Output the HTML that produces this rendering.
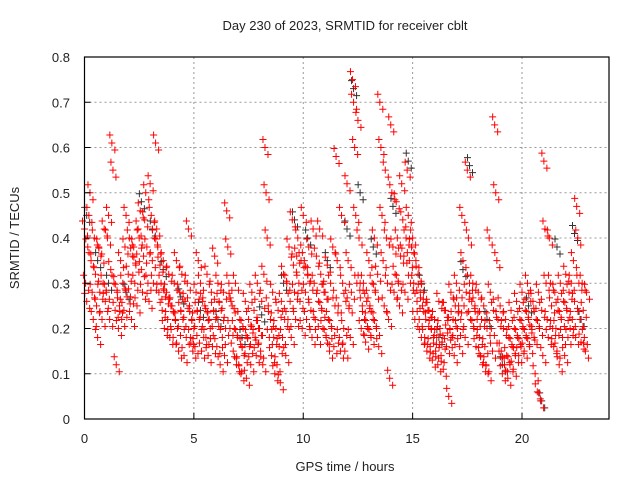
<!DOCTYPE html>
<html><head><meta charset="utf-8"><style>
body{margin:0;background:#fff}
svg{display:block;font-family:"Liberation Sans",sans-serif}
</style></head><body>
<svg id="chart" width="640" height="480" viewBox="0 0 640 480" xmlns="http://www.w3.org/2000/svg">
<rect width="640" height="480" fill="#fff"/>
<text x="345" y="30" font-size="13" text-anchor="middle" fill="#222">Day 230 of 2023, SRMTID for receiver cblt</text>
<text x="345" y="471" font-size="13" text-anchor="middle" fill="#222">GPS time / hours</text>
<text transform="translate(19,238) rotate(-90)" font-size="13" text-anchor="middle" fill="#222">SRMTID / TECUs</text>
<g id="grid"></g>
<g id="black"></g>
<g id="red"></g>
<g id="axes"></g>
</svg>
<script>
const xTicks=[0,5,10,15,20];
const yTicks=[0,0.1,0.2,0.3,0.4,0.5,0.6,0.7,0.8];
const yTickLabels=["0","0.1","0.2","0.3","0.4","0.5","0.6","0.7","0.8"];
const stepHours=0.25;
const redValues=[
[.42,.30,.26,.38,.45],[.50,.35,.28,.22,.40],[.32,.25,.18,.38,.28],[.36,.22,.30,.42,.26],
[.28,.40,.45,.22,.33],[.61,.55,.30,.24,.12],[.28,.20,.25,.35,.22],[.30,.24,.38,.45,.27],
[.32,.40,.27,.22,.36],[.38,.30,.34,.25,.42],[.40,.46,.33,.28,.36],[.44,.50,.38,.30,.26],
[.52,.45,.35,.30,.40],[.61,.42,.38,.28,.34],[.30,.24,.35,.20,.27],[.28,.22,.32,.18,.25],
[.25,.18,.30,.22,.35],[.20,.15,.28,.24,.32],[.22,.14,.26,.18,.30],[.42,.25,.18,.22,.15],
[.20,.16,.28,.24,.35],[.22,.30,.15,.26,.18],[.25,.18,.32,.14,.22],[.20,.28,.16,.24,.36],
[.22,.16,.30,.26,.12],[.24,.18,.28,.14,.20],[.46,.38,.30,.20,.26],[.25,.15,.20,.30,.12],
[.18,.12,.22,.10,.16],[.20,.14,.26,.09,.18],[.22,.16,.12,.28,.19],[.24,.18,.14,.30,.20],
[.20,.15,.26,.12,.32],[.60,.50,.40,.25,.18],[.22,.14,.28,.18,.10],[.20,.12,.24,.16,.08],
[.26,.18,.32,.22,.14],[.30,.22,.38,.26,.18],[.44,.34,.28,.22,.36],[.40,.30,.26,.35,.20],
[.45,.35,.28,.22,.32],[.38,.30,.24,.18,.42],[.30,.22,.36,.18,.26],[.42,.32,.24,.20,.28],
[.28,.18,.34,.22,.15],[.30,.20,.38,.16,.25],[.58,.35,.25,.18,.15],[.45,.30,.20,.15,.26],
[.52,.35,.25,.18,.28],[.75,.70,.60,.45,.30],[.66,.40,.30,.20,.25],[.30,.22,.17,.26,.20],
[.35,.25,.18,.30,.22],[.40,.28,.20,.32,.16],[.70,.60,.45,.35,.25],[.55,.40,.30,.22,.09],
[.65,.50,.38,.28,.32],[.48,.40,.30,.25,.36],[.52,.44,.36,.28,.40],[.55,.45,.35,.30,.38],
[.40,.30,.22,.35,.26],[.32,.22,.28,.18,.25],[.28,.18,.22,.15,.24],[.24,.16,.20,.13,.18],
[.22,.15,.18,.12,.26],[.20,.14,.17,.11,.24],[.24,.16,.19,.05,.20],[.28,.18,.22,.14,.25],
[.30,.20,.25,.16,.22],[.45,.35,.25,.18,.28],[.55,.40,.30,.22,.26],[.30,.20,.25,.16,.22],
[.28,.18,.14,.22,.12],[.25,.16,.12,.20,.10],[.40,.28,.20,.15,.24],[.65,.50,.35,.22,.15],
[.25,.15,.10,.20,.12],[.22,.14,.09,.18,.12],[.24,.16,.11,.20,.14],[.26,.18,.14,.22,.16],
[.28,.20,.15,.24,.18],[.30,.22,.16,.26,.19],[.26,.18,.10,.22,.06],[.28,.20,.04,.24,.14],
[.57,.42,.30,.22,.18],[.40,.30,.25,.20,.16],[.28,.20,.15,.24,.12],[.30,.22,.18,.26,.14],
[.32,.24,.18,.28,.20],[.30,.22,.35,.26,.18],[.47,.40,.30,.22,.17],[.30,.24,.18,.15,.28]
];
const blackTimes=[0.1,0.6,1.1,1.9,2.6,3.1,3.6,4.4,5.3,6.1,7.2,8.1,9.1,9.6,10.2,11.1,12.0,12.3,12.6,13.2,14.1,14.8,15.4,16.2,17.3,17.6,18.4,19.1,20.3,20.9,21.6,22.4,22.7];
const blackValues=[0.45,0.35,0.30,0.28,0.48,0.42,0.33,0.27,0.24,0.22,0.18,0.23,0.30,0.44,0.40,0.35,0.42,0.73,0.50,0.38,0.47,0.57,0.30,0.18,0.33,0.56,0.22,0.12,0.25,0.04,0.38,0.41,0.22];
const X0=84.5,XS=21.875,Y0=419,YS=452.5;
const sx=h=>X0+h*XS, sy=v=>Y0-v*YS;
const NS="http://www.w3.org/2000/svg";
function mk(tag,attrs,parent){const e=document.createElementNS(NS,tag);for(const k in attrs)e.setAttribute(k,attrs[k]);parent.appendChild(e);return e;}
const grid=document.getElementById('grid'),axes=document.getElementById('axes');
xTicks.forEach(t=>{
  const x=sx(t);
  if(t>0){const g=mk('line',{x1:x,x2:x,y1:57,y2:419,stroke:'#999','stroke-dasharray':'2,3'},grid);
  
  }
  const tk=mk('line',{x1:x,x2:x,y1:419,y2:413,stroke:'#000'},axes);
  
  
  const lb=mk('text',{x:x,y:443,'font-size':13,'text-anchor':'middle',fill:'#222'},axes);
  lb.textContent=String(t);
  
  
});
yTicks.forEach((v,i)=>{
  const y=sy(v);
  if(v>0&&v<0.8){const g=mk('line',{x1:84.5,x2:609,y1:y,y2:y,stroke:'#999','stroke-dasharray':'2,3'},grid);
  
  }
  const tk=mk('line',{x1:84.5,x2:90.5,y1:y,y2:y,stroke:'#000'},axes);
  
  
  const lb=mk('text',{x:70,y:y+5,'font-size':13,'text-anchor':'end',fill:'#222'},axes);
  lb.textContent=yTickLabels[i];
  
  
});
const box=mk('rect',{x:84.5,y:57,width:524.5,height:362,fill:'none',stroke:'#000','stroke-width':1.2},axes);


// each sample drawn as a small cluster of "+" markers (dense gnuplot look)
function cluster(x,y){
  let d='';
  [[0,0],[3,7],[-2,-8]].forEach(o=>{const cx=x+o[0],cy=y+o[1];d+=`M${cx-3.5},${cy}H${cx+3.5}M${cx},${cy-3.5}V${cy+3.5}`;});
  return d;
}
const bg=document.getElementById('black');
blackTimes.forEach((t,i)=>{
  const p=mk('path',{d:cluster(sx(t),sy(blackValues[i])),stroke:'#333','stroke-width':1,fill:'none'},bg);
  
  
});
const rg=document.getElementById('red');
redValues.forEach((vals,i)=>{
  vals.forEach((v,j)=>{
    const t=i*stepHours+j*stepHours/vals.length;
    const p=mk('path',{d:cluster(sx(t),sy(v)),stroke:'#f00','stroke-width':1,fill:'none'},rg);
    
    
  });
});
</script>
</body></html>
